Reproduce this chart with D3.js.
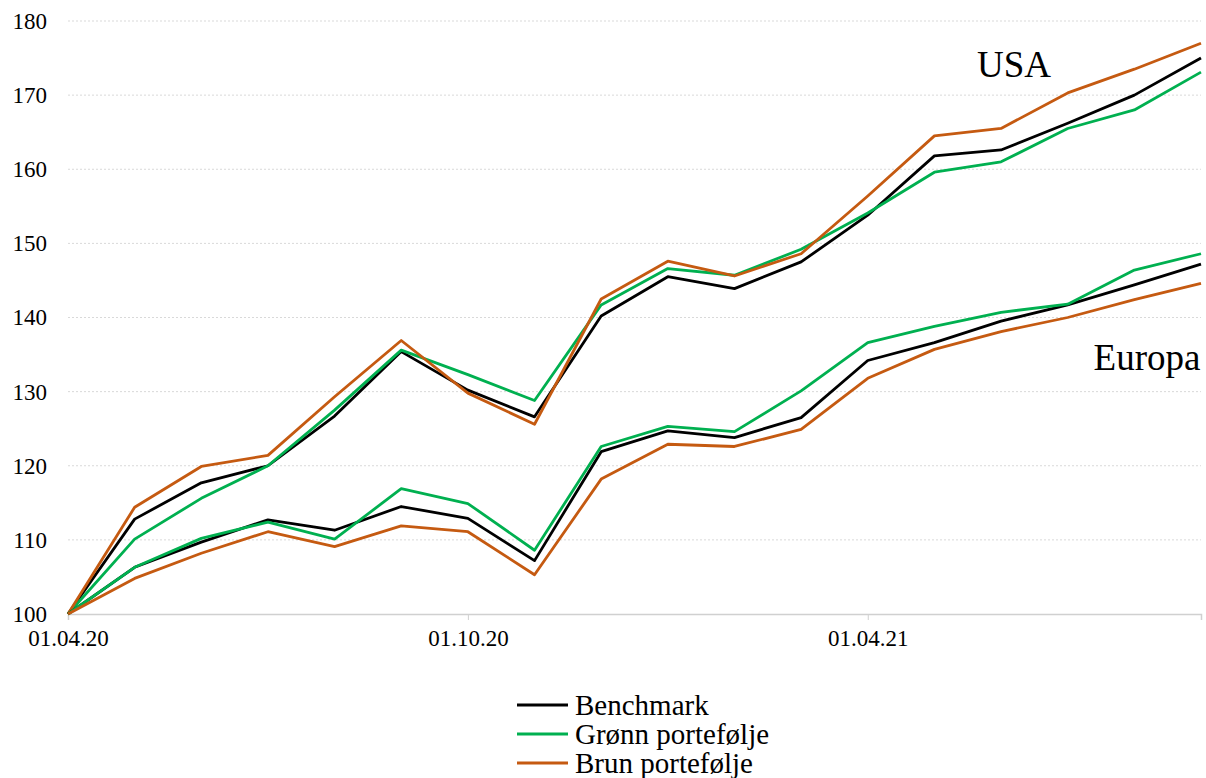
<!DOCTYPE html>
<html>
<head>
<meta charset="utf-8">
<script src="https://cdn.jsdelivr.net/npm/d3@7"></script>
<style>
  html, body { margin: 0; padding: 0; background: #fff; }
  svg { display: block; }
  text { font-family: "Liberation Serif", "Times New Roman", serif; fill: #000; }
</style>
</head>
<body>
<svg id="chart" width="1206" height="778"></svg>
<script>
// Monthly observations, 01.04.20 – 01.09.21 (index = 100 at start)
const dates = ["01.04.20","01.05.20","01.06.20","01.07.20","01.08.20","01.09.20",
               "01.10.20","01.11.20","01.12.20","01.01.21","01.02.21","01.03.21",
               "01.04.21","01.05.21","01.06.21","01.07.21","01.08.21","01.09.21"];
const xTickLabels = ["01.04.20", "01.10.20", "01.04.21"];
const yTicks = [100, 110, 120, 130, 140, 150, 160, 170, 180];

// USA
const usaBenchmark = [100, 112.8, 117.7, 120.0, 126.7, 135.4, 130.2, 126.6, 140.2, 145.5, 143.9, 147.5, 153.8, 161.8, 162.6, 166.2, 170.0, 175.0];
const usaGreen     = [100, 110.1, 115.6, 120.0, 127.5, 135.6, 132.3, 128.8, 141.7, 146.6, 145.7, 149.2, 154.1, 159.6, 161.0, 165.5, 168.0, 173.1];
const usaBrown     = [100, 114.4, 119.9, 121.4, 129.3, 136.9, 129.8, 125.6, 142.5, 147.6, 145.6, 148.6, 156.4, 164.5, 165.5, 170.3, 173.5, 177.0];

// Europa
const euBenchmark  = [100, 106.3, 109.7, 112.7, 111.3, 114.5, 112.9, 107.2, 121.9, 124.7, 123.8, 126.5, 134.2, 136.6, 139.5, 141.7, 144.4, 147.2];
const euGreen      = [100, 106.3, 110.2, 112.4, 110.1, 116.9, 114.9, 108.6, 122.6, 125.3, 124.6, 130.1, 136.6, 138.8, 140.7, 141.8, 146.4, 148.6];
const euBrown      = [100, 104.8, 108.2, 111.1, 109.1, 111.9, 111.1, 105.3, 118.2, 122.9, 122.6, 124.9, 131.8, 135.7, 138.1, 140.0, 142.4, 144.6];

const seriesNames = ["Benchmark", "Grønn portefølje", "Brun portefølje"];
const seriesColors = ["#000000", "#00b050", "#c55a11"];

const regions = [
  { name: "USA",    series: [usaBenchmark, usaGreen, usaBrown] },
  { name: "Europa", series: [euBenchmark,  euGreen,  euBrown] }
];

const svg = d3.select("#chart");
const margin = { left: 68, right: 5, top: 21, bottom: 164 };
const W = +svg.attr("width"), H = +svg.attr("height");
const x0 = margin.left, x1 = W - margin.right;
const y0 = H - margin.bottom, y1 = margin.top;

const x = d3.scalePoint().domain(dates).range([x0, x1]);
const y = d3.scaleLinear().domain([100, 180]).range([y0, y1]);

const tickFont = "'Liberation Serif', 'Times New Roman', serif";

// Horizontal gridlines
svg.append("g")
  .selectAll("line")
  .data(yTicks.filter(v => v !== 100))
  .join("line")
    .attr("x1", x0).attr("x2", x1)
    .attr("y1", d => y(d)).attr("y2", d => y(d))
    .attr("stroke", "#d9d9d9")
    .attr("stroke-width", 1)
    .attr("stroke-dasharray", "2,2");

// Y axis labels (no axis line)
const yAxis = d3.axisLeft(y).tickValues(yTicks).tickSize(0).tickPadding(21);
svg.append("g")
  .attr("transform", `translate(${x0},0)`)
  .call(yAxis)
  .call(g => g.select(".domain").remove())
  .call(g => g.selectAll("text")
    .style("font-family", tickFont)
    .style("font-size", "23px")
    .attr("fill", "#000"));

// X axis
const xAxis = d3.axisBottom(x).tickValues(xTickLabels).tickSize(6).tickPadding(10);
svg.append("g")
  .attr("transform", `translate(0,${y0})`)
  .call(xAxis)
  .call(g => g.select(".domain").attr("stroke", "#d0d0d0").attr("stroke-width", 1.5))
  .call(g => g.selectAll(".tick line").attr("stroke", "#d0d0d0").attr("stroke-width", 1))
  .call(g => g.selectAll("text")
    .style("font-family", tickFont)
    .style("font-size", "23px")
    .attr("fill", "#000"));

// Lines
const line = d3.line()
  .x((d, i) => x(dates[i]))
  .y(d => y(d));

regions.forEach(r => {
  r.series.forEach((s, k) => {
    svg.append("path")
      .datum(s)
      .attr("fill", "none")
      .attr("stroke", seriesColors[k])
      .attr("stroke-width", 2.8)
      .attr("stroke-linejoin", "round")
      .attr("d", line);
  });
});

// Region labels
svg.append("text")
  .attr("x", 1014).attr("y", 77)
  .attr("text-anchor", "middle")
  .style("font-size", "37px")
  .text("USA");
svg.append("text")
  .attr("x", 1147).attr("y", 370)
  .attr("text-anchor", "middle")
  .style("font-size", "37px")
  .text("Europa");

// Legend
const legend = svg.append("g").attr("transform", "translate(517,705)");
seriesNames.forEach((name, i) => {
  const row = legend.append("g").attr("transform", `translate(0,${i * 29})`);
  row.append("line")
    .attr("x1", 0).attr("x2", 51)
    .attr("y1", 0).attr("y2", 0)
    .attr("stroke", seriesColors[i])
    .attr("stroke-width", 3);
  row.append("text")
    .attr("x", 58).attr("y", 10)
    .style("font-size", "29px")
    .text(name);
});
</script>
</body>
</html>
